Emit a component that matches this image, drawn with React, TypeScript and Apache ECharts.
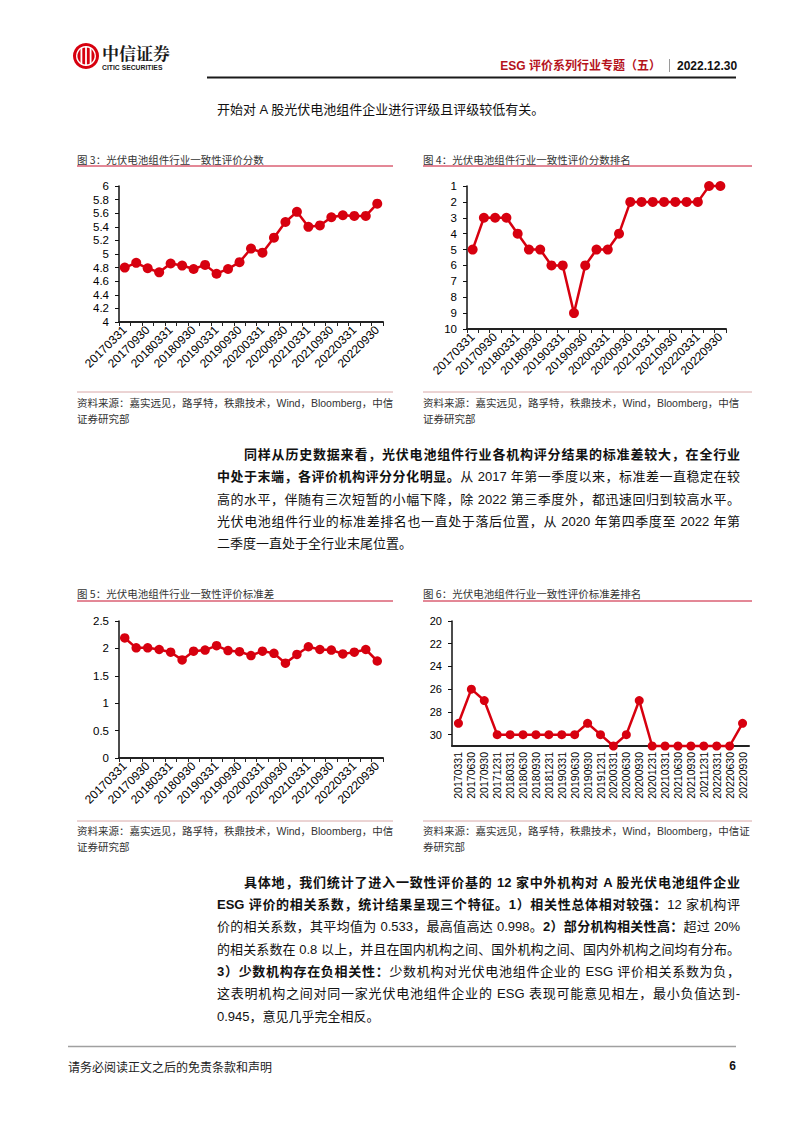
import React, { useEffect, useRef } from "react";
import * as echarts from "echarts";

// ---------- data ----------
const dates = [
  "20170331", "20170630", "20170930", "20171231",
  "20180331", "20180630", "20180930", "20181231",
  "20190331", "20190630", "20190930", "20191231",
  "20200331", "20200630", "20200930", "20201231",
  "20210331", "20210630", "20210930", "20211231",
  "20220331", "20220630", "20220930",
];
const scoreValues = [4.80, 4.87, 4.79, 4.73, 4.86, 4.83, 4.78, 4.84, 4.71, 4.78, 4.88, 5.08, 5.02, 5.24, 5.47, 5.62, 5.40, 5.42, 5.54, 5.57, 5.56, 5.56, 5.74];
const scoreRank = [5, 3, 3, 3, 4, 5, 5, 6, 6, 9, 6, 5, 5, 4, 2, 2, 2, 2, 2, 2, 2, 1, 1];
const stdValues = [2.19, 2.01, 2.01, 1.98, 1.93, 1.79, 1.95, 1.97, 2.05, 1.96, 1.94, 1.87, 1.95, 1.91, 1.73, 1.89, 2.03, 1.98, 1.97, 1.90, 1.93, 1.98, 1.77];
const stdRank = [29, 26, 27, 30, 30, 30, 30, 30, 30, 30, 29, 30, 31, 30, 27, 31, 31, 31, 31, 31, 31, 31, 29];

const chartTitles = [
  "图 3：光伏电池组件行业一致性评价分数",
  "图 4：光伏电池组件行业一致性评价分数排名",
  "图 5：光伏电池组件行业一致性评价标准差",
  "图 6：光伏电池组件行业一致性评价标准差排名",
];
const sourceLines = [
  ["资料来源：嘉实远见，路孚特，秩鼎技术，Wind，Bloomberg，中信", "证券研究部"],
  ["资料来源：嘉实远见，路孚特，秩鼎技术，Wind，Bloomberg，中信", "证券研究部"],
  ["资料来源：嘉实远见，路孚特，秩鼎技术，Wind，Bloomberg，中信", "证券研究部"],
  ["资料来源：嘉实远见，路孚特，秩鼎技术，Wind，Bloomberg，中信证", "券研究部"],
];

type Seg = { t: string; b?: boolean };
const introLine = "开始对 A 股光伏电池组件企业进行评级且评级较低有关。";
const para1: Seg[][] = [
  [{ t: "同样从历史数据来看，光伏电池组件行业各机构评分结果的标准差较大，在全行业", b: true }],
  [{ t: "中处于末端，各评价机构评分分化明显。", b: true }, { t: "从 2017 年第一季度以来，标准差一直稳定在较" }],
  [{ t: "高的水平，伴随有三次短暂的小幅下降，除 2022 第三季度外，都迅速回归到较高水平。" }],
  [{ t: "光伏电池组件行业的标准差排名也一直处于落后位置，从 2020 年第四季度至 2022 年第" }],
  [{ t: "二季度一直处于全行业末尾位置。" }],
];
const para2: Seg[][] = [
  [{ t: "具体地，我们统计了进入一致性评价基的 12 家中外机构对 A 股光伏电池组件企业", b: true }],
  [{ t: "ESG 评价的相关系数，统计结果呈现三个特征。1）相关性总体相对较强：", b: true }, { t: "12 家机构评" }],
  [{ t: "价的相关系数，其平均值为 0.533，最高值高达 0.998。" }, { t: "2）部分机构相关性高：", b: true }, { t: "超过 20%" }],
  [{ t: "的相关系数在 0.8 以上，并且在国内机构之间、国外机构之间、国内外机构之间均有分布。" }],
  [{ t: "3）少数机构存在负相关性：", b: true }, { t: "少数机构对光伏电池组件企业的 ESG 评价相关系数为负，" }],
  [{ t: "这表明机构之间对同一家光伏电池组件企业的 ESG 表现可能意见相左，最小负值达到-" }],
  [{ t: "0.945，意见几乎完全相反。" }],
];

const RED = "#D7000F";
const FONT = '"Liberation Sans", Arial, "Noto Sans CJK SC", sans-serif';

function catAxis(gridIndex: number, rotate: number, labelInterval: number, fontSize: number, showTicks: boolean) {
  return {
    type: "category",
    gridIndex,
    data: dates,
    boundaryGap: true,
    axisLine: { show: true, onZero: false, lineStyle: { color: "#222", width: 2 } },
    axisTick: { show: showTicks, interval: 0, length: 4, lineStyle: { color: "#222", width: 1 } },
    axisLabel: {
      rotate,
      interval: labelInterval,
      fontSize,
      color: "#000",
      fontFamily: FONT,
      margin: 6,
    },
    splitLine: { show: false },
  };
}

function valAxis(gridIndex: number, min: number, max: number, interval: number, inverse: boolean, fontSize: number, extra: any = {}) {
  return {
    type: "value",
    gridIndex,
    min,
    max,
    interval,
    inverse,
    axisLine: { show: true, lineStyle: { color: "#111", width: 1.5 } },
    axisTick: { show: true, length: 4, lineStyle: { color: "#111", width: 1 } },
    axisLabel: { fontSize, color: "#000", fontFamily: FONT, margin: 10, ...extra },
    splitLine: { show: false },
  };
}

function lineSeries(idx: number, data: number[], size: number) {
  return {
    type: "line",
    xAxisIndex: idx,
    yAxisIndex: idx,
    data,
    symbol: "circle",
    symbolSize: size,
    showAllSymbol: true,
    clip: false,
    itemStyle: { color: RED, borderWidth: 0 },
    lineStyle: { color: RED, width: 2.5 },
  };
}

function txt(x: number, y: number, text: string, font: string, fill = "#222", align = "left") {
  return {
    type: "text",
    x,
    y,
    style: { text, font, fill, textAlign: align, textVerticalAlign: "middle" },
  };
}
function ln(x1: number, y1: number, x2: number, y2: number, stroke: string, lineWidth: number) {
  return { type: "line", shape: { x1, y1, x2, y2 }, style: { stroke, lineWidth } };
}

const titleFont = '10.5px "Noto Sans CJK SC", sans-serif';
const srcFont = '10.5px "Liberation Sans", Arial, "Noto Sans CJK SC", sans-serif';

const chartFrames = [
  { x1: 77, x2: 393, titleY: 159, titleLine: 166, srcLine: 392, src1: 403, src2: 419 },
  { x1: 423, x2: 752, titleY: 159, titleLine: 166, srcLine: 392, src1: 403, src2: 419 },
  { x1: 77, x2: 393, titleY: 593, titleLine: 601, srcLine: 821, src1: 831, src2: 847 },
  { x1: 423, x2: 752, titleY: 593, titleLine: 601, srcLine: 821, src1: 831, src2: 847 },
];

function buildGraphics() {
  const g: any[] = [];
  // logo
  g.push({ type: "circle", shape: { cx: 86, cy: 56, r: 13 }, style: { fill: RED } });
  g.push({ type: "ring", shape: { cx: 86, cy: 56, r: 10, r0: 8.6 }, style: { fill: "#fff" } });
  g.push({ type: "rect", shape: { x: 80.5, y: 48, width: 1.8, height: 16 }, style: { fill: "#fff" } });
  g.push({ type: "rect", shape: { x: 85.1, y: 46, width: 1.8, height: 20 }, style: { fill: "#fff" } });
  g.push({ type: "rect", shape: { x: 89.7, y: 48, width: 1.8, height: 16 }, style: { fill: "#fff" } });
  g.push(txt(102, 52, "中信证券", 'bold 17px "Noto Serif CJK SC", "Noto Sans CJK SC", serif', "#1a1a1a"));
  g.push(txt(102, 67, "CITIC SECURITIES", 'bold 6.8px "Liberation Sans", Arial, sans-serif', "#1a1a1a"));
  // header
  g.push(txt(661, 66, "ESG 评价系列行业专题（五）", 'bold 12px "Liberation Sans", Arial, "Noto Sans CJK SC", sans-serif', "#B5121B", "right"));
  g.push(ln(669.5, 59, 669.5, 72, "#9a9a9a", 1));
  g.push(txt(677, 66, "2022.12.30", 'bold 12px "Liberation Sans", Arial, sans-serif', "#111"));
  g.push(ln(207, 77.5, 736, 77.5, "#1a1a1a", 2));
  // chart titles / sources
  chartFrames.forEach((f, i) => {
    g.push(txt(f.x1, f.titleY, chartTitles[i], titleFont, "#333"));
    g.push(ln(f.x1, f.titleLine, f.x2, f.titleLine, "#C8102E", 1));
    g.push(ln(f.x1, f.srcLine, f.x2, f.srcLine, "#d8a8a8", 1));
    g.push(txt(f.x1, f.src1, sourceLines[i][0], srcFont, "#333"));
    g.push(txt(f.x1, f.src2, sourceLines[i][1], srcFont, "#333"));
  });
  // footer
  g.push(ln(68, 1046.5, 736, 1046.5, "#a0a0a0", 1.5));
  g.push(txt(68, 1066, "请务必阅读正文之后的免责条款和声明", '12px "Noto Sans CJK SC", sans-serif', "#222"));
  g.push(txt(736, 1066, "6", 'bold 12px "Liberation Sans", Arial, sans-serif', "#111", "right"));
  return g;
}

function buildOption() {
  return {
    animation: false,
    backgroundColor: "#fff",
    grid: [
      { left: 119, top: 186, width: 264, height: 136 },
      { left: 467, top: 186, width: 259, height: 143 },
      { left: 119, top: 621, width: 264, height: 137 },
      { left: 452, top: 621, width: 297, height: 125 },
    ],
    xAxis: [
      catAxis(0, 45, 1, 12, true),
      catAxis(1, 45, 1, 12, true),
      catAxis(2, 45, 1, 12, true),
      catAxis(3, 90, 0, 10.5, false),
    ],
    yAxis: [
      valAxis(0, 4, 6, 0.2, false, 11.5),
      valAxis(1, 1, 10, 1, true, 11.5),
      valAxis(2, 0, 2.5, 0.5, false, 11.5),
      valAxis(3, 20, 31, 2, true, 11, { showMaxLabel: false }),
    ],
    series: [
      lineSeries(0, scoreValues, 10),
      lineSeries(1, scoreRank, 10),
      lineSeries(2, stdValues, 9.5),
      lineSeries(3, stdRank, 9),
    ],
    graphic: buildGraphics(),
  };
}

const bodyFont = '"Liberation Sans", Arial, "Noto Sans CJK SC", sans-serif';

function Line({ segs, y, indent, last }: { segs: Seg[]; y: number; indent: boolean; last: boolean }) {
  const left = indent ? 244 : 217;
  return (
    <div
      style={{
        position: "absolute",
        left,
        top: y - 10,
        width: 740 - left,
        height: 20,
        lineHeight: "20px",
        fontSize: 13,
        fontFamily: bodyFont,
        color: "#111",
        textAlign: last ? "left" : "justify",
        textAlignLast: last ? "left" : "justify",
        whiteSpace: "nowrap",
      }}
    >
      {segs.map((s, i) => (
        <span key={i} style={{ fontWeight: s.b ? 700 : 400 }}>
          {s.t}
        </span>
      ))}
    </div>
  );
}

export default function App() {
  const ref = useRef<HTMLDivElement>(null);
  useEffect(() => {
    if (!ref.current) return;
    const chart = echarts.init(ref.current, null, { renderer: "svg", width: 802, height: 1133 });
    chart.setOption(buildOption() as any);
    return () => chart.dispose();
  }, []);
  const p1Y = [455, 477, 500, 522, 544];
  const p2Y = [883, 905, 927, 950, 972, 994, 1017];
  return (
    <div style={{ position: "fixed", left: 0, top: 0, width: 802, height: 1133, background: "#fff", overflow: "hidden" }}>
      <div ref={ref} style={{ position: "absolute", left: 0, top: 0, width: 802, height: 1133 }} />
      <Line segs={[{ t: introLine }]} y={110} indent={false} last={true} />
      {para1.map((segs, i) => (
        <Line key={"a" + i} segs={segs} y={p1Y[i]} indent={i === 0} last={i === para1.length - 1} />
      ))}
      {para2.map((segs, i) => (
        <Line key={"b" + i} segs={segs} y={p2Y[i]} indent={i === 0} last={i === para2.length - 1} />
      ))}
    </div>
  );
}
